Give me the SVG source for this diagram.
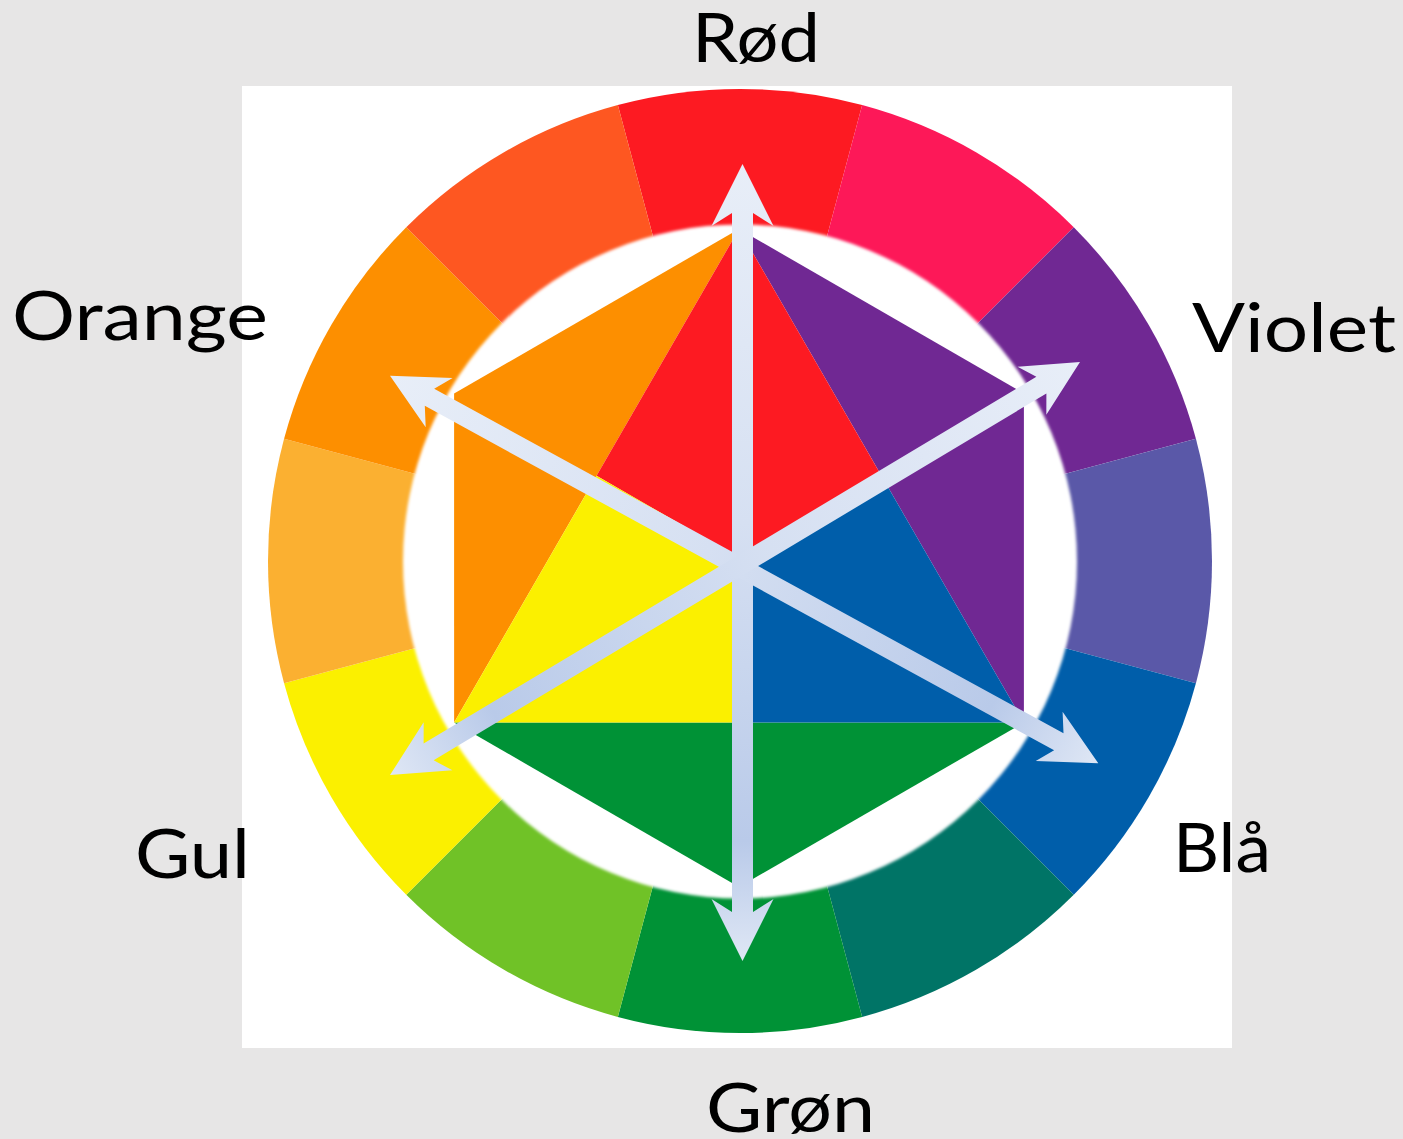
<svg xmlns="http://www.w3.org/2000/svg" width="1403" height="1139" viewBox="0 0 1403 1139">
<defs>
<style>
.lbl{font-family:Lato,"Noto Sans","Liberation Sans",sans-serif;font-size:68px;fill:#000;text-anchor:middle}
.arr{fill:url(#ag)}
</style>
<linearGradient id="ag" x1="0" y1="0" x2="1" y2="0">
<stop offset="0" stop-color="#e8eef8"/>
<stop offset="0.45" stop-color="#d6e0f2"/>
<stop offset="0.85" stop-color="#b9cae9"/>
<stop offset="1" stop-color="#dfe7f5"/>
</linearGradient>
<filter id="soft" x="-5%" y="-5%" width="110%" height="110%"><feGaussianBlur stdDeviation="1.5"/></filter>
</defs>
<rect width="1403" height="1139" fill="#e7e6e6"/>
<rect x="242" y="86" width="990" height="962" fill="#ffffff"/>
<g id="ring">
<path d="M740,561 L617.84,105.08 A472,472 0 0 1 862.16,105.08 Z" fill="#fd1a22"/>
<path d="M740,561 L862.16,105.08 A472,472 0 0 1 1073.75,227.25 Z" fill="#fd1858"/>
<path d="M740,561 L1073.75,227.25 A472,472 0 0 1 1195.92,438.84 Z" fill="#702893"/>
<path d="M740,561 L1195.92,438.84 A472,472 0 0 1 1195.92,683.16 Z" fill="#5a58a8"/>
<path d="M740,561 L1195.92,683.16 A472,472 0 0 1 1073.75,894.75 Z" fill="#005eaa"/>
<path d="M740,561 L1073.75,894.75 A472,472 0 0 1 862.16,1016.92 Z" fill="#007466"/>
<path d="M740,561 L862.16,1016.92 A472,472 0 0 1 617.84,1016.92 Z" fill="#009236"/>
<path d="M740,561 L617.84,1016.92 A472,472 0 0 1 406.25,894.75 Z" fill="#70c227"/>
<path d="M740,561 L406.25,894.75 A472,472 0 0 1 284.08,683.16 Z" fill="#fbf000"/>
<path d="M740,561 L284.08,683.16 A472,472 0 0 1 284.08,438.84 Z" fill="#fbb031"/>
<path d="M740,561 L284.08,438.84 A472,472 0 0 1 406.25,227.25 Z" fill="#fd8f00"/>
<path d="M740,561 L406.25,227.25 A472,472 0 0 1 617.84,105.08 Z" fill="#fe5721"/>
<circle cx="740" cy="561.5" r="337" fill="#ffffff" filter="url(#soft)"/>
</g>
<g id="hexagon">
<polygon id="orange" points="739,229 454.1,393.5 454.1,722.5" fill="#fd8f00"/>
<polygon id="violet" points="739,229 1023.9,393.5 1023.9,722.5" fill="#702893"/>
<polygon id="green" points="454.1,722.5 1023.9,722.5 739,887" fill="#009236"/>
<polygon id="red" points="739,229 881.45,475.75 739,558 596.55,475.75" fill="#fd1a22"/>
<polygon id="blue" points="881.45,475.75 1023.9,722.5 739,722.5 739,558" fill="#005eaa"/>
<polygon id="yellow" points="596.55,475.75 739,558 739,722.5 454.1,722.5" fill="#fbf000"/>
</g>
<g id="connectors">
<polygon class="arr" transform="translate(742.5,562.5) rotate(90)" points="-398.5,0 -336.5,-31 -349.5,-10.5 349.5,-10.5 336.5,-31 398.5,0 336.5,31 349.5,10.5 -349.5,10.5 -336.5,31"/>
<polygon class="arr" transform="translate(744.15,569.5) rotate(28.69)" points="-403.7,0 -347.7,-28 -358.7,-9.75 358.7,-9.75 347.7,-28 403.7,0 347.7,28 358.7,9.75 -358.7,9.75 -347.7,28"/>
<polygon class="arr" transform="translate(735,568.5) rotate(149.09)" points="-402.1,0 -346.1,-28 -357.1,-9.75 357.1,-9.75 346.1,-28 402.1,0 346.1,28 357.1,9.75 -357.1,9.75 -346.1,28"/>
</g>
<g id="labels">
<text id="lbl-rod" class="lbl" x="756" y="62" textLength="128" lengthAdjust="spacingAndGlyphs">Rød</text>
<text id="lbl-orange" class="lbl" x="140" y="340" textLength="256" lengthAdjust="spacingAndGlyphs">Orange</text>
<text id="lbl-violet" class="lbl" x="1294" y="352" textLength="204" lengthAdjust="spacingAndGlyphs">Violet</text>
<text id="lbl-gul" class="lbl" x="192.5" y="878" textLength="115" lengthAdjust="spacingAndGlyphs">Gul</text>
<text id="lbl-bla" class="lbl" x="1222" y="872" textLength="98" lengthAdjust="spacingAndGlyphs">Blå</text>
<text id="lbl-gron" class="lbl" x="790.5" y="1132" textLength="169" lengthAdjust="spacingAndGlyphs">Grøn</text>
</g>
</svg>
